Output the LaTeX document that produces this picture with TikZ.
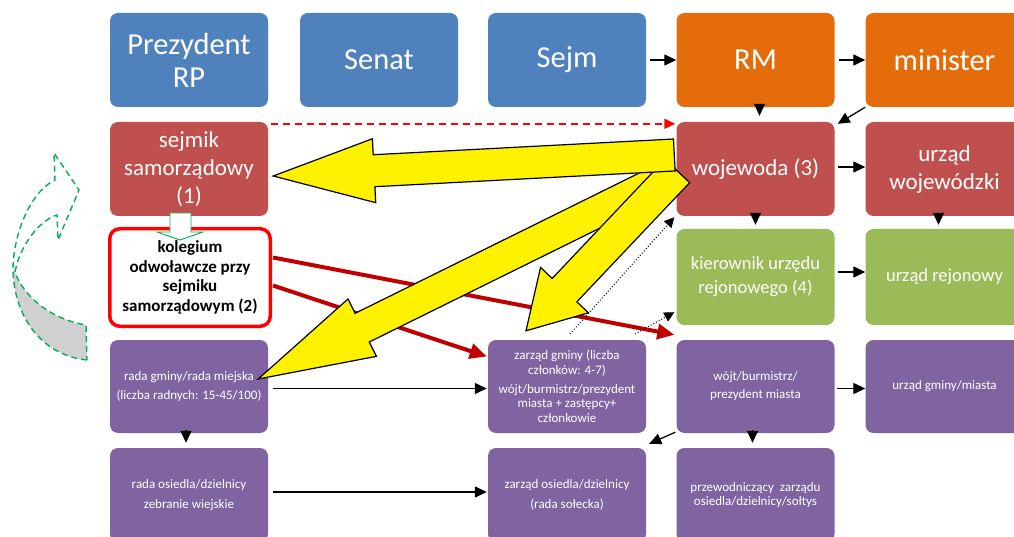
\documentclass[tikz,border=0pt]{standalone}
\usepackage{fontspec}
\setmainfont{Carlito}
\usetikzlibrary{arrows.meta,calc}
\definecolor{cblue}{HTML}{4F81BD}
\definecolor{corange}{HTML}{E46C0A}
\definecolor{cred}{HTML}{C0504D}
\definecolor{cgreen}{HTML}{9BBB59}
\definecolor{cpurple}{HTML}{8064A2}
\definecolor{cdarkred}{HTML}{C00000}
\definecolor{cgdash}{HTML}{00B050}
\definecolor{cgray}{HTML}{D0D0D0}
\tikzset{
  box/.style={rounded corners=8pt, minimum width=158pt, minimum height=94pt, inner sep=2pt, align=center, text=white},
  fbig/.style={font=\fontsize{30.5}{33}\selectfont},
  fmid/.style={font=\fontsize{23}{28}\selectfont},
  fsm/.style={font=\fontsize{18.5}{24}\selectfont},
  ftiny/.style={font=\fontsize{13}{14.5}\selectfont},
  arr/.style={draw=black, line width=1.3pt, -{Triangle[length=12pt,width=11pt]}},
  redarr/.style={draw=cdarkred, line width=4pt, -{Triangle[length=17pt,width=15pt]}},
  reddash/.style={draw=red, line width=1.7pt, dash pattern=on 7pt off 5pt, -{Triangle[length=11pt,width=10pt]}},
  dotarr/.style={draw=black, line width=1pt, dotted, -{Triangle[length=10pt,width=10pt]}},
  yarrow/.style={fill=yellow, draw=black, line width=1.2pt, line join=miter},
  gdash/.style={draw=cgdash, line width=1.4pt, dash pattern=on 6pt off 4pt},
}
\newcommand{\blockarrow}[5]{%
  \path ($(#2)!#3!(#1)$) coordinate (baseP);
  \draw[yarrow] ($(#1)!#4!90:(#2)$) -- ($(baseP)!#4!-90:(#1)$) -- ($(baseP)!#5!-90:(#1)$) -- (#2)
    -- ($(baseP)!#5!90:(#1)$) -- ($(baseP)!#4!90:(#1)$) -- ($(#1)!#4!-90:(#2)$) -- cycle;
}
\begin{document}
\begin{tikzpicture}[x=1pt,y=-1pt]
\useasboundingbox (0,0) rectangle (1014,537);
\clip (0,0) rectangle (1014,537);
\fill[white] (0,0) rectangle (1014,537);
% row 1
\node[box,fbig,fill=cblue] (prez) at (189,60) {Prezydent\\RP};
\node[box,fbig,fill=cblue] (senat) at (379,60) {Senat};
\node[box,fbig,fill=cblue] (sejm) at (567,60) {Sejm};
\node[box,fbig,fill=corange] (rm) at (755.5,60) {RM};
\node[box,fbig,fill=corange] (min) at (944.5,60) {minister};
% row 2
\node[box,fmid,fill=cred] (sej) at (189,169) {sejmik\\samorządowy\\(1)};
\node[box,fmid,fill=cred] (woj) at (755.5,169) {wojewoda (3)};
\node[box,fmid,fill=cred] (uw) at (944.5,169) {urząd\\wojewódzki};
% row 3
\node[rounded corners=10pt, draw=red, line width=3.5pt, fill=white, minimum width=160.5pt, minimum height=97.5pt, align=center, inner sep=2pt, font=\fontsize{17}{19.5}\selectfont\bfseries] (kol) at (190,277.5) {kolegium\\odwoławcze przy\\sejmiku\\samorządowym (2)};
\node[box,fsm,fill=cgreen,minimum height=96pt] (kier) at (755.5,277) {kierownik urzędu\\rejonowego (4)};
\node[box,fsm,fill=cgreen,minimum height=96pt] (ur) at (944.5,277) {urząd rejonowy};
% row 4
\node[box,ftiny,fill=cpurple,minimum height=93pt] (rg) at (189,386.5) {rada gminy/rada miejska\\[4.5pt](liczba radnych: 15-45/100)};
\node[box,ftiny,fill=cpurple,minimum height=93pt] (zg) at (567,386.5) {zarząd gminy (liczba\\członków: 4-7)\\[4.5pt]wójt/burmistrz/prezydent\\miasta + zastępcy+\\członkowie};
\node[box,ftiny,fill=cpurple,minimum height=93pt] (wojt) at (755.5,386.5) {wójt/burmistrz/\\[3.5pt]prezydent miasta};
\node[box,ftiny,fill=cpurple,minimum height=93pt] (ug) at (944.5,386.5) {urząd gminy/miasta};
% row 5
\node[box,ftiny,fill=cpurple] (ro) at (189,495) {rada osiedla/dzielnicy\\[5.5pt]zebranie wiejskie};
\node[box,ftiny,fill=cpurple] (zo) at (567,495) {zarząd osiedla/dzielnicy\\[5.5pt](rada sołecka)};
\node[box,ftiny,fill=cpurple] (prz) at (755.5,495) {przewodniczący\ \ zarządu\\osiedla/dzielnicy/sołtys};
% black arrows
\draw[arr] ($(sejm.east)+(4,0)$) -- (rm.west);
\draw[arr] ($(rm.east)+(4,0)$) -- (min.west);
\draw[arr] ($(rm.south)+(4,-3)$) -- ($(woj.north)+(4,-6)$);
\draw[arr] (min.south west) -- ($(woj.north east)+(3,2)$);
\draw[arr] ($(woj.east)+(3,-2)$) -- ($(uw.west)+(0,-2)$);
\draw[arr] ($(woj.south)+(0,-3)$) -- ($(kier.north)+(0,-4)$);
\draw[arr] ($(uw.south)+(-6,-3)$) -- ($(ur.north)+(-6,-4)$);
\draw[arr] ($(kier.east)+(3,-5)$) -- ($(ur.west)+(0,-5)$);
\draw[arr] ($(rg.south)+(-3,-3)$) -- ($(ro.north)+(-3,-5)$);
\draw[arr] ($(rg.east)+(5,2)$) -- ($(zg.west)+(-1,2)$);
\draw[arr] ($(ro.east)+(5,-3)$) -- ($(zo.west)+(-1,-3)$);
\draw[arr] ($(wojt.east)+(2,2)$) -- ($(ug.west)+(0,2)$);
\draw[arr] ($(wojt.south west)+(-1,-1)$) -- ($(zo.north east)+(3,-4)$);
\draw[arr] ($(wojt.south)+(-3,-3)$) -- ($(prz.north)+(-3,-5)$);
% red dashed
\draw[reddash] ($(sej.north east)+(3,2)$) -- ($(woj.north west)+(-1,2)$);
% green hollow arrow
\draw[draw=cgdash, line width=0.9pt, fill=white] (170,213) -- (170,232) -- (157,232) -- (180,240) -- (203,232) -- (191,232) -- (191,213) -- cycle;
% red thick arrows
\draw[redarr] ($(kol.east)+(1,-20)$) -- ($(wojt.north west)+(-2,-5)$);
\draw[redarr] ($(kol.east)+(1,8)$) -- ($(zg.west)+(-1,-30)$);
% yellow block arrows
\path ($(woj.west)+(-9,8)$) coordinate (t2) ($(rg.east)+(-10,-7.5)$) coordinate (p2);
\path ($(woj.west)+(1,2)$) coordinate (t3) ($(zg.north)+(-41,-9)$) coordinate (p3);
\path ($(woj.west)+(-2,-14)$) coordinate (t1) ($(sej.east)+(5,7)$) coordinate (p1);
\blockarrow{t2}{p2}{116pt}{16pt}{32pt}
\blockarrow{t3}{p3}{56pt}{17pt}{33pt}
\blockarrow{t1}{p1}{101pt}{16pt}{32pt}
% dotted arrows
\coordinate (d1) at (570,334);
\coordinate (d2) at (635,334);
\draw[dotarr] (d1) -- ($(woj.south west)+(-2,1)$);
\draw[dotarr] (d2) -- ($(kier.south west)+(-2,-13)$);
% left curved arrow
\fill[cgray] (13,270) .. controls (14,315) and (40,355) .. (87,360) -- (86,325) .. controls (55,320) and (25,300) .. (15,272) -- cycle;
\draw[gdash] (87,360) .. controls (40,355) and (14,315) .. (13,270) .. controls (13,235) and (30,192) .. (55,180) -- (54,153) -- (79,190) -- (58,240) -- (57,215) .. controls (40,220) and (20,245) .. (15,272) .. controls (25,300) and (55,320) .. (86,325) -- cycle;
\end{tikzpicture}
\end{document}
